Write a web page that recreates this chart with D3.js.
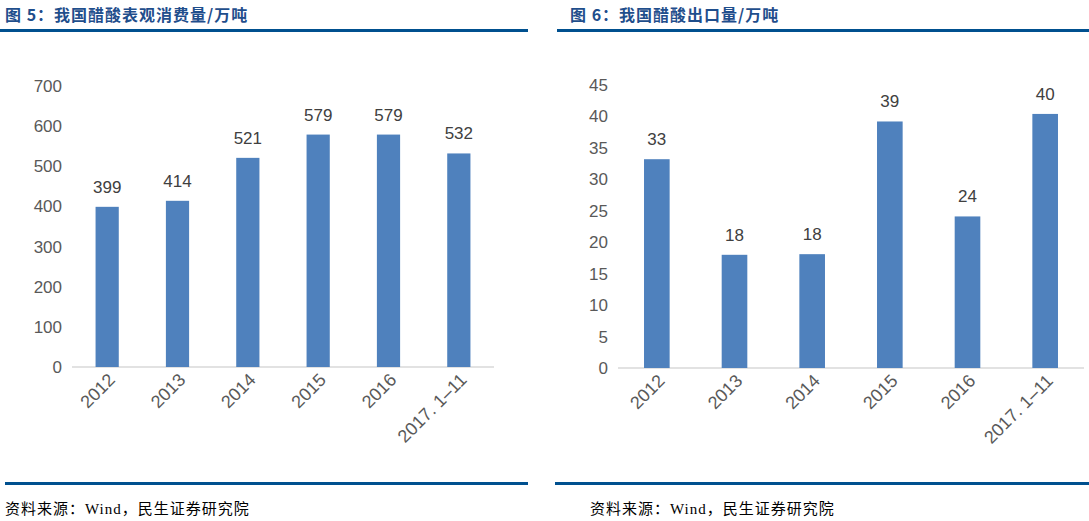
<!DOCTYPE html><html><head><meta charset="utf-8"><script src="https://cdn.jsdelivr.net/npm/d3@7"></script>
<style>body{margin:0;background:#fff}svg text{font-family:"Liberation Sans",Arial,sans-serif}</style></head><body><svg id="c" width="1089" height="521"></svg><script>
const categories=["2012","2013","2014","2015","2016","2017. 1–11"];
const consumption=[399,414,521,579,579,532];
const exportsV=[33.2,18,18.1,39.2,24.1,40.4];
const consLabels=["399","414","521","579","579","532"];
const expLabels=["33","18","18","39","24","40"];
const consTicks=[0,100,200,300,400,500,600,700];
const expTicks=[0,5,10,15,20,25,30,35,40,45];
const svg=d3.select("#c");
function panel(o){
  const g=svg.append("g");
  g.append("text").attr("x",o.tx).attr("y",21).attr("fill","#1f4e8c").attr("font-size",16).attr("font-weight","bold").attr("letter-spacing",1)
   .style("font-family","'Noto Sans CJK SC',sans-serif").text(o.title);
  g.append("rect").attr("x",o.r0).attr("y",29).attr("width",o.r1-o.r0).attr("height",3).attr("fill","#00508f");
  g.append("rect").attr("x",o.b0).attr("y",482).attr("width",o.b1-o.b0).attr("height",3).attr("fill","#00508f");
  g.append("text").attr("x",o.sx).attr("y",514).attr("font-size",15).attr("fill","#000").attr("letter-spacing",1)
   .style("font-family","'Liberation Serif','Noto Sans CJK SC',serif").text("资料来源：Wind，民生证券研究院");
  const y=d3.scaleLinear().domain([0,o.max]).range([o.y0,o.y1]);
  const x=d3.scaleBand().domain(categories).range([o.x0,o.x1]).paddingInner(0.67).paddingOuter(0.335);
  g.append("line").attr("x1",o.x0).attr("x2",o.x1).attr("y1",o.y0).attr("y2",o.y0).attr("stroke","#d9d9d9").attr("stroke-width",1.5);
  g.selectAll(".t").data(o.ticks).join("text").attr("x",o.x0-10).attr("y",d=>y(d)+6).attr("text-anchor","end")
   .attr("font-size",17).attr("fill","#595959").text(d=>d);
  g.selectAll(".b").data(o.vals).join("rect").attr("x",(d,i)=>x(categories[i])).attr("width",x.bandwidth())
   .attr("y",d=>y(d)).attr("height",d=>o.y0-y(d)).attr("fill","#4f81bd");
  g.selectAll(".l").data(o.vals).join("text").attr("x",(d,i)=>x(categories[i])+x.bandwidth()/2).attr("y",d=>y(d)-14)
   .attr("text-anchor","middle").attr("font-size",17).attr("fill","#404040").text((d,i)=>o.labels[i]);
  g.selectAll(".c").data(categories).join("text").attr("font-size",18).attr("fill","#595959").attr("text-anchor","end")
   .attr("transform",d=>`translate(${x(d)+x.bandwidth()/2+9},${o.y0+14}) rotate(-45)`).text(d=>d);
}
panel({title:"图 5：我国醋酸表观消费量/万吨",tx:5,r0:0,r1:528,b0:5,b1:528,sx:5,max:700,y0:367,y1:86,x0:72,x1:494,ticks:consTicks,vals:consumption,labels:consLabels});
panel({title:"图 6：我国醋酸出口量/万吨",tx:570,r0:557,r1:1089,b0:555,b1:1089,sx:590,max:45,y0:368,y1:85,x0:618,x1:1084,ticks:expTicks,vals:exportsV,labels:expLabels});
</script></body></html>
